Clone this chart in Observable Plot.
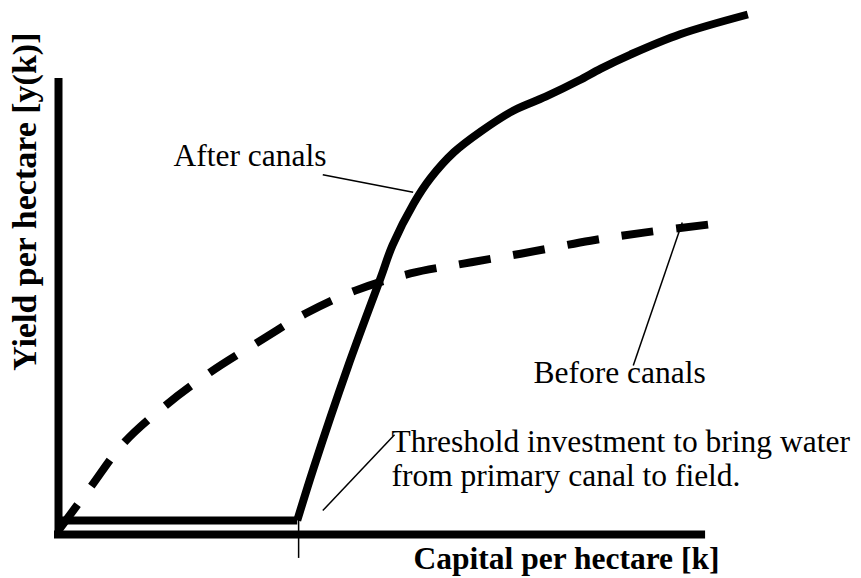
<!DOCTYPE html>
<html>
<head>
<meta charset="utf-8">
<script src="https://cdn.jsdelivr.net/npm/d3@7"></script>
<script src="https://cdn.jsdelivr.net/npm/@observablehq/plot@0.6"></script>
<style>
  html, body { margin: 0; padding: 0; background: #fff; }
  #chart svg { display: block; }
</style>
</head>
<body>
<div id="chart"></div>
<script>
// ---- Data (arbitrary units 0..10) ----
// "After canals": flat until the threshold investment, then rising
const afterFlatK = [0.05, 3.46];
const afterFlatY = [0.27, 0.27];
const afterRiseK = [3.46, 3.70, 4.19, 4.67, 4.84, 5.15, 5.39, 5.73, 6.12, 6.59, 7.06, 7.54, 7.86, 8.29, 9.01, 9.99];
const afterRiseY = [0.27, 1.29, 3.21, 4.94, 5.56, 6.37, 6.85, 7.35, 7.75, 8.15, 8.42, 8.73, 8.96, 9.23, 9.62, 10.0];
// "Before canals": concave curve from the origin
const beforeK = [0.00, 0.46, 0.94, 1.55, 2.20, 2.88, 3.58, 4.30, 5.10, 5.87, 6.70, 7.71, 8.51, 9.55];
const beforeY = [0.08, 0.90, 1.75, 2.48, 3.12, 3.69, 4.25, 4.69, 5.02, 5.21, 5.40, 5.65, 5.81, 5.98];
// Threshold investment (tick on the k axis)
const thresholdK = [3.48];
// Axis extents
const axisYTop = [8.69];
const axisXEnd = [9.32];
// Labels
const labelAfter = "After canals";
const labelBefore = "Before canals";
const labelThreshold = "Threshold investment to bring water\nfrom primary canal to field.";
const labelX = "Capital per hectare [k]";
const labelY = "Yield per hectare [y(k)]";

const afterFlat = afterFlatK.map((k, i) => ({k, y: afterFlatY[i]}));
const afterRise = afterRiseK.map((k, i) => ({k, y: afterRiseY[i]}));
const before = beforeK.map((k, i) => ({k, y: beforeY[i]}));

const FS = 31.5;
const serif = "'Liberation Serif', 'Times New Roman', Times, serif";

const chart = Plot.plot({
  width: 861,
  height: 578,
  marginLeft: 58,
  marginRight: 113,
  marginTop: 14,
  marginBottom: 44,
  x: {domain: [0, 10], axis: null},
  y: {domain: [0, 10], axis: null},
  style: {fontFamily: serif, background: "#fff", overflow: "visible"},
  marks: [
    // axes as thick rules
    Plot.ruleX([0], {y1: 0, y2: axisYTop[0], stroke: "#000", strokeWidth: 8, strokeLinecap: "square"}),
    Plot.ruleY([0], {x1: 0, x2: axisXEnd[0], stroke: "#000", strokeWidth: 8, strokeLinecap: "square"}),
    // threshold tick
    Plot.ruleX(thresholdK, {y1: 0.35, y2: -0.46, stroke: "#000", strokeWidth: 1.5}),
    // before canals (dashed)
    Plot.line(before, {x: "k", y: "y", curve: "catmull-rom", stroke: "#000", strokeWidth: 8, strokeDasharray: "32,23", strokeLinecap: "butt"}),
    // after canals (solid)
    Plot.line(afterFlat, {x: "k", y: "y", stroke: "#000", strokeWidth: 8, strokeLinecap: "butt"}),
    Plot.line(afterRise, {x: "k", y: "y", curve: "catmull-rom", stroke: "#000", strokeWidth: 8, strokeLinecap: "butt", strokeLinejoin: "round"}),
    // leader lines
    Plot.link([0], {x1: 3.83, y1: 6.92, x2: 5.14, y2: 6.58, stroke: "#000", strokeWidth: 1.5}),
    Plot.link([0], {x1: 9.04, y1: 6.00, x2: 8.33, y2: 3.25, stroke: "#000", strokeWidth: 1.5}),
    Plot.link([0], {x1: 3.83, y1: 0.46, x2: 4.87, y2: 1.92, stroke: "#000", strokeWidth: 1.5}),
    // annotations
    Plot.text([labelAfter], {x: 1.667, y: 7.096, text: d => d, textAnchor: "start", lineAnchor: "bottom", fontSize: FS, fill: "#000"}),
    Plot.text([labelBefore], {x: 6.884, y: 2.923, text: d => d, textAnchor: "start", lineAnchor: "bottom", fontSize: FS, fill: "#000"}),
    Plot.text([labelThreshold], {x: 4.826, y: 0.942, text: d => d, textAnchor: "start", lineAnchor: "bottom", lineHeight: 1.05, fontSize: FS, fill: "#000"}),
    // axis titles
    Plot.text([labelX], {x: 5.145, y: -0.654, text: d => d, textAnchor: "start", lineAnchor: "bottom", fontSize: FS, fontWeight: "bold", fill: "#000"}),
    Plot.text([labelY], {x: -0.333, y: 6.40, text: d => d, rotate: -90, textAnchor: "middle", lineAnchor: "bottom", fontSize: 34, fontWeight: "bold", fill: "#000"})
  ]
});
document.getElementById("chart").appendChild(chart);
</script>
</body>
</html>
